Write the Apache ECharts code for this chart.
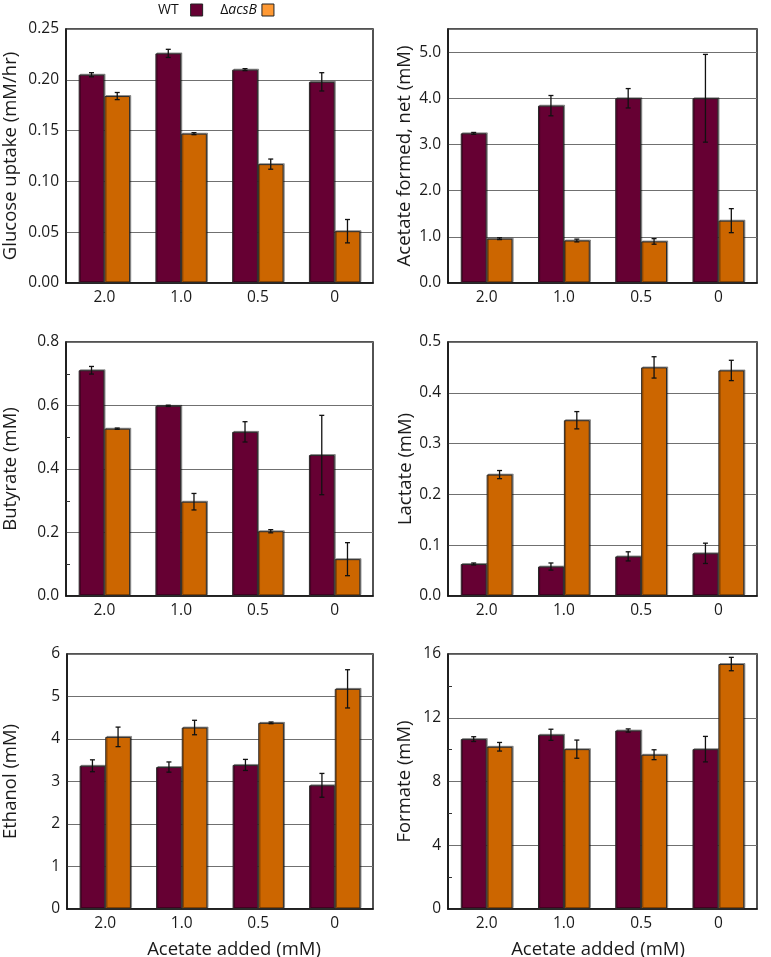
<!DOCTYPE html>
<html>
<head>
<meta charset="utf-8">
<script src="https://cdn.jsdelivr.net/npm/echarts@6/dist/echarts.min.js"></script>
<style>
html,body{margin:0;padding:0;background:#fff;}
#chart{width:771px;height:957px;}
</style>
</head>
<body>
<div id="chart"></div>
<script>
// ---- Data ----
const categories = ['2.0', '1.0', '0.5', '0'];

const glucoseWT = [0.205, 0.226, 0.210, 0.198];
const glucoseWTErr = [0.002, 0.004, 0.001, 0.009];
const glucoseKO = [0.184, 0.147, 0.117, 0.051];
const glucoseKOErr = [0.0035, 0.001, 0.005, 0.0115];

const acetateWT = [3.24, 3.84, 4.00, 4.00];
const acetateWTErr = [0.02, 0.22, 0.21, 0.95];
const acetateKO = [0.96, 0.92, 0.90, 1.35];
const acetateKOErr = [0.02, 0.03, 0.06, 0.26];

const butyrateWT = [0.711, 0.599, 0.517, 0.444];
const butyrateWTErr = [0.012, 0.002, 0.032, 0.125];
const butyrateKO = [0.527, 0.297, 0.204, 0.116];
const butyrateKOErr = [0.002, 0.026, 0.005, 0.052];

const lactateWT = [0.063, 0.058, 0.078, 0.084];
const lactateWTErr = [0.002, 0.007, 0.009, 0.020];
const lactateKO = [0.239, 0.346, 0.450, 0.444];
const lactateKOErr = [0.008, 0.017, 0.021, 0.020];

const ethanolWT = [3.37, 3.34, 3.39, 2.91];
const ethanolWTErr = [0.14, 0.12, 0.13, 0.28];
const ethanolKO = [4.05, 4.27, 4.38, 5.18];
const ethanolKOErr = [0.23, 0.17, 0.02, 0.45];

const formateWT = [10.66, 10.93, 11.20, 10.03];
const formateWTErr = [0.15, 0.35, 0.10, 0.80];
const formateKO = [10.18, 10.03, 9.68, 15.37];
const formateKOErr = [0.27, 0.57, 0.31, 0.42];

const panelTitles = ['Glucose uptake (mM/hr)', 'Acetate formed, net (mM)', 'Butyrate (mM)', 'Lactate (mM)', 'Ethanol (mM)', 'Formate (mM)'];
const yMax = [0.25, 5.5, 0.8, 0.5, 6, 16];
const yInterval = [0.05, 1, 0.2, 0.1, 1, 4];
const yDecimals = [2, 1, 1, 1, 0, 0];
const xTitle = 'Acetate added (mM)';

// ---- Styling / layout ----
const FONT = 'Open Sans';
const WT_COLOR = '#660033';
const KO_COLOR = '#CC6600';
const KO_LEGEND = '#FF9933';
const CAT_GAP = 0.33;
const TICK_FS = 15.5;

const panels = [
  {wt: glucoseWT, wtE: glucoseWTErr, ko: glucoseKO, koE: glucoseKOErr},
  {wt: acetateWT, wtE: acetateWTErr, ko: acetateKO, koE: acetateKOErr},
  {wt: butyrateWT, wtE: butyrateWTErr, ko: butyrateKO, koE: butyrateKOErr},
  {wt: lactateWT, wtE: lactateWTErr, ko: lactateKO, koE: lactateKOErr},
  {wt: ethanolWT, wtE: ethanolWTErr, ko: ethanolKO, koE: ethanolKOErr},
  {wt: formateWT, wtE: formateWTErr, ko: formateKO, koE: formateKOErr}
];

const gridPos = [
  {left: 64, top: 29, width: 309, height: 254},
  {left: 448, top: 29, width: 309, height: 254},
  {left: 64, top: 342, width: 309, height: 254},
  {left: 448, top: 342, width: 309, height: 254},
  {left: 64, top: 654, width: 309, height: 255},
  {left: 448, top: 654, width: 309, height: 255}
];
const nameGaps = [46, 34, 46, 33, 47, 34];
const minorTicks = [false, false, true, false, false, true];

const grids = [], xAxes = [], yAxes = [], series = [];

function errRender(sign) {
  return function (params, api) {
    const xi = api.value(0), v = api.value(1), e = api.value(2);
    const band = api.size([1, 0])[0];
    const off = sign * band * (1 - CAT_GAP) / 4;
    const c = api.coord([xi, v]);
    const cx = c[0] + off;
    const yt = api.coord([xi, v + e])[1];
    const yb = api.coord([xi, v - e])[1];
    const cap = 2.5;
    const st = {stroke: '#111', lineWidth: 1.3};
    return {
      type: 'group',
      children: [
        {type: 'line', shape: {x1: cx, y1: yt, x2: cx, y2: yb}, style: st},
        {type: 'line', shape: {x1: cx - cap, y1: yt, x2: cx + cap, y2: yt}, style: st},
        {type: 'line', shape: {x1: cx - cap, y1: yb, x2: cx + cap, y2: yb}, style: st}
      ]
    };
  };
}

const barStyle = (color) => ({
  color: color,
  borderColor: '#2a2a2a',
  borderWidth: 1,
  shadowColor: 'rgba(0,0,0,0.35)',
  shadowOffsetX: 1.2,
  shadowOffsetY: -1,
  shadowBlur: 0
});

panels.forEach((p, i) => {
  grids.push(Object.assign({show: true, borderColor: '#1a1a1a', borderWidth: 1.5, backgroundColor: '#fff'}, gridPos[i]));
  xAxes.push({
    type: 'category', gridIndex: i, data: categories,
    axisLine: {lineStyle: {color: '#111', width: 1.5}},
    axisTick: {show: false},
    axisLabel: {fontFamily: FONT, fontSize: TICK_FS, color: '#1a1a1a', margin: 7}
  });
  const dec = yDecimals[i];
  yAxes.push({
    type: 'value', gridIndex: i, min: 0, max: yMax[i], interval: yInterval[i],
    name: panelTitles[i], nameLocation: 'middle', nameGap: nameGaps[i],
    nameTextStyle: {fontFamily: FONT, fontSize: 18.5, color: '#1a1a1a'},
    axisLine: {show: true, lineStyle: {color: '#111', width: 1.5}},
    axisTick: {show: false},
    minorTick: {show: minorTicks[i], splitNumber: 2, length: -4, lineStyle: {color: '#333', width: 1}},
    axisLabel: {
      fontFamily: FONT, fontSize: TICK_FS, color: '#1a1a1a', margin: 7,
      showMaxLabel: i !== 1,
      formatter: (v) => v.toFixed(dec)
    },
    splitLine: {show: true, lineStyle: {color: '#707070', width: 1.2}}
  });
  series.push({
    type: 'bar', name: 'WT', xAxisIndex: i, yAxisIndex: i, data: p.wt,
    barCategoryGap: (CAT_GAP * 100) + '%', barGap: '0%',
    itemStyle: barStyle(WT_COLOR), z: 2
  });
  series.push({
    type: 'bar', name: 'ΔacsB', xAxisIndex: i, yAxisIndex: i, data: p.ko,
    barCategoryGap: (CAT_GAP * 100) + '%', barGap: '0%',
    itemStyle: barStyle(KO_COLOR), z: 2
  });
  series.push({
    type: 'custom', xAxisIndex: i, yAxisIndex: i, z: 10,
    data: categories.map((c, k) => [k, p.wt[k], p.wtE[k]]),
    encode: {x: 0, y: 1}, renderItem: errRender(-1)
  });
  series.push({
    type: 'custom', xAxisIndex: i, yAxisIndex: i, z: 10,
    data: categories.map((c, k) => [k, p.ko[k], p.koE[k]]),
    encode: {x: 0, y: 1}, renderItem: errRender(1)
  });
});

const option = {
  animation: false,
  backgroundColor: '#fff',
  textStyle: {fontFamily: FONT},
  legend: {
    left: 153, top: -2, align: 'right', itemWidth: 12, itemHeight: 12, itemGap: 17,
    icon: 'rect',
    data: [
      {name: 'WT', itemStyle: {color: WT_COLOR, borderColor: '#222', borderWidth: 1}},
      {name: 'ΔacsB', itemStyle: {color: KO_LEGEND, borderColor: '#222', borderWidth: 1}}
    ],
    formatter: (n) => n === 'WT' ? '{w|WT}' : '{d|Δ}{b|acsB}',
    textStyle: {
      fontFamily: FONT, fontSize: 14, color: '#111',
      rich: {
        w: {fontFamily: FONT, fontSize: 14, color: '#111', padding: [0, 7, 0, 0]},
        d: {fontFamily: FONT, fontSize: 14, color: '#111'},
        b: {fontFamily: FONT, fontSize: 14, color: '#111', fontStyle: 'italic'}
      }
    }
  },
  title: [
    {text: xTitle, left: 229, top: 935, textAlign: 'center', textStyle: {fontFamily: FONT, fontSize: 18.5, fontWeight: 'normal', color: '#1a1a1a'}},
    {text: xTitle, left: 593, top: 935, textAlign: 'center', textStyle: {fontFamily: FONT, fontSize: 18.5, fontWeight: 'normal', color: '#1a1a1a'}}
  ],
  grid: grids,
  xAxis: xAxes,
  yAxis: yAxes,
  series: series
};

const chart = echarts.init(document.getElementById('chart'), null, {renderer: 'canvas'});
chart.setOption(option);
</script>
</body>
</html>
